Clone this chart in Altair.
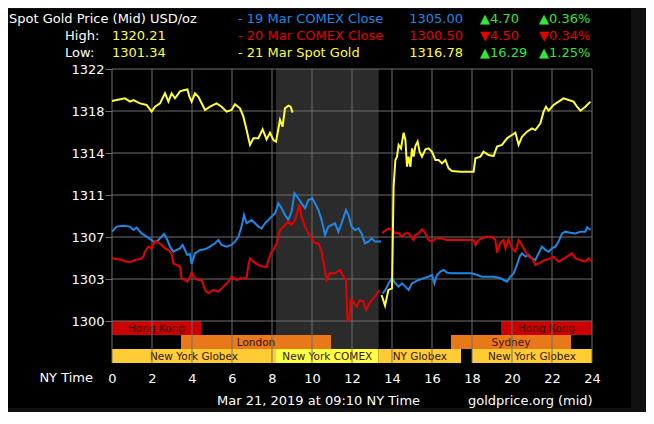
import altair as alt
import pandas as pd

# ---------------- data ----------------
spot_a_hours = [0.00, 0.23, 0.65, 0.90, 1.07, 1.40, 1.73, 1.98, 2.15, 2.40, 2.65, 2.82, 2.98, 3.15, 3.40, 3.57, 3.77, 3.87, 3.98, 4.15, 4.32, 4.65, 4.90, 5.23, 5.48, 5.73, 5.98, 6.15, 6.40, 6.57, 6.73, 6.90, 7.07, 7.32, 7.53, 7.73, 7.90, 8.07, 8.20, 8.40, 8.53, 8.65, 8.82, 8.93, 9.03]
spot_a_values = [1319.21, 1319.29, 1319.44, 1319.15, 1319.29, 1319.00, 1318.86, 1318.28, 1318.71, 1319.00, 1319.88, 1319.15, 1319.88, 1319.44, 1320.05, 1320.15, 1320.21, 1319.58, 1319.15, 1319.88, 1319.58, 1318.42, 1318.71, 1319.00, 1318.71, 1318.28, 1318.42, 1318.92, 1318.57, 1317.84, 1316.67, 1315.37, 1315.95, 1315.95, 1316.73, 1315.86, 1316.44, 1315.80, 1315.66, 1317.55, 1316.97, 1318.57, 1318.80, 1318.71, 1318.19]

spot_b_hours = [13.48, 13.65, 13.82, 14.00, 14.08, 14.17, 14.25, 14.33, 14.45, 14.58, 14.67, 14.75, 14.83, 14.92, 15.00, 15.08, 15.17, 15.28, 15.38, 15.50, 15.67, 15.83, 16.00, 16.17, 16.33, 16.50, 16.67, 16.83, 17.00, 17.42, 18.08, 18.17, 18.42, 18.58, 18.83, 19.08, 19.25, 19.50, 19.75, 20.00, 20.17, 20.33, 20.50, 20.75, 21.00, 21.17, 21.42, 21.58, 21.70, 21.83, 22.08, 22.33, 22.58, 22.83, 23.08, 23.25, 23.42, 23.67, 23.92]
spot_b_values = [1302.27, 1301.34, 1302.71, 1302.85, 1311.73, 1314.06, 1314.35, 1315.37, 1315.07, 1316.44, 1315.80, 1313.47, 1314.35, 1313.47, 1315.07, 1314.35, 1315.28, 1315.66, 1314.78, 1314.35, 1314.99, 1315.07, 1314.78, 1314.06, 1314.06, 1313.76, 1314.06, 1313.33, 1313.10, 1313.04, 1313.04, 1314.20, 1314.35, 1314.78, 1314.49, 1314.40, 1315.22, 1315.37, 1315.95, 1316.24, 1316.44, 1315.37, 1316.09, 1316.53, 1316.82, 1316.67, 1317.26, 1318.28, 1318.71, 1318.36, 1318.86, 1319.15, 1319.44, 1319.29, 1319.15, 1318.71, 1318.36, 1318.71, 1319.15]

mar19_a_hours = [0.00, 0.23, 0.57, 0.90, 1.07, 1.23, 1.48, 1.73, 1.90, 2.07, 2.23, 2.32, 2.48, 2.60, 2.73, 2.90, 3.07, 3.23, 3.40, 3.53, 3.65, 3.77, 3.90, 3.98, 4.15, 4.40, 4.65, 4.90, 5.15, 5.32, 5.48, 5.73, 5.98, 6.15, 6.32, 6.48, 6.60, 6.73, 6.98, 7.15, 7.32, 7.48, 7.65, 7.82, 7.98, 8.15, 8.32, 8.48, 8.65, 8.82, 8.98, 9.12, 9.32, 9.48, 9.65, 9.82, 10.02, 10.15, 10.32, 10.48, 10.65, 10.82, 10.98, 11.15, 11.32, 11.48, 11.70, 11.82, 11.98, 12.15, 12.32, 12.48, 12.65, 12.82, 12.98, 13.15, 13.45]
mar19_a_values = [1307.80, 1308.24, 1308.32, 1308.24, 1307.94, 1308.15, 1307.65, 1307.36, 1307.16, 1306.93, 1306.93, 1307.07, 1307.36, 1307.60, 1307.22, 1306.49, 1306.05, 1306.20, 1306.34, 1306.64, 1306.20, 1305.76, 1305.85, 1304.98, 1305.91, 1306.20, 1306.26, 1306.49, 1306.78, 1307.07, 1306.64, 1306.49, 1306.64, 1306.93, 1307.36, 1308.24, 1309.25, 1308.53, 1308.82, 1308.53, 1308.24, 1308.09, 1308.53, 1308.82, 1309.11, 1309.40, 1310.27, 1309.84, 1309.25, 1308.82, 1309.55, 1311.15, 1310.71, 1310.27, 1309.84, 1310.56, 1310.71, 1310.27, 1309.69, 1308.82, 1307.51, 1308.24, 1308.38, 1308.53, 1307.80, 1308.53, 1309.69, 1309.25, 1308.24, 1307.94, 1308.09, 1307.65, 1306.78, 1306.93, 1307.22, 1306.93, 1306.93]

mar19_b_hours = [13.53, 13.67, 13.83, 14.00, 14.17, 14.33, 14.50, 14.67, 14.83, 15.00, 15.17, 15.33, 15.58, 15.83, 16.00, 16.12, 16.25, 16.42, 16.58, 16.75, 17.00, 17.42, 18.00, 18.25, 18.50, 18.75, 19.08, 19.42, 19.75, 19.92, 20.08, 20.25, 20.38, 20.50, 20.67, 20.83, 21.00, 21.17, 21.33, 21.50, 21.67, 21.83, 22.00, 22.17, 22.33, 22.50, 22.67, 22.92, 23.17, 23.42, 23.67, 23.75, 23.92]
mar19_b_values = [1302.42, 1302.71, 1303.29, 1303.73, 1303.29, 1303.00, 1303.29, 1303.00, 1302.71, 1303.29, 1303.43, 1303.58, 1303.73, 1303.87, 1304.02, 1303.29, 1304.02, 1304.31, 1304.45, 1304.22, 1304.16, 1304.16, 1304.16, 1304.02, 1303.87, 1303.87, 1303.87, 1303.73, 1303.43, 1303.87, 1304.16, 1304.89, 1305.62, 1305.91, 1305.62, 1305.76, 1305.47, 1305.33, 1305.91, 1306.49, 1306.20, 1306.05, 1306.34, 1306.49, 1306.93, 1307.65, 1307.80, 1307.71, 1307.65, 1307.80, 1307.80, 1308.18, 1307.94]

mar20_a_hours = [0.00, 0.23, 0.48, 0.73, 0.98, 1.15, 1.40, 1.57, 1.65, 1.82, 1.98, 2.15, 2.32, 2.48, 2.65, 2.82, 2.98, 3.07, 3.23, 3.40, 3.48, 3.65, 3.77, 3.90, 3.98, 4.15, 4.32, 4.48, 4.65, 4.82, 5.07, 5.32, 5.57, 5.82, 5.98, 6.23, 6.40, 6.73, 6.82, 6.90, 7.07, 7.32, 7.57, 7.73, 7.82, 7.98, 8.07, 8.23, 8.40, 8.65, 8.82, 8.98, 9.15, 9.37, 9.48, 9.65, 9.82, 9.98, 10.15, 10.32, 10.48, 10.73, 10.90, 11.15, 11.40, 11.57, 11.70, 11.77, 11.87, 11.93, 12.07, 12.23, 12.40, 12.57, 12.70, 12.82, 12.98, 13.15, 13.37]
mar20_a_values = [1305.47, 1305.41, 1305.33, 1305.18, 1305.18, 1305.33, 1305.41, 1305.62, 1306.05, 1306.49, 1306.34, 1307.01, 1306.84, 1306.64, 1306.34, 1306.20, 1305.91, 1305.03, 1304.89, 1304.74, 1303.73, 1303.58, 1303.43, 1303.87, 1304.22, 1303.73, 1303.58, 1303.58, 1302.71, 1302.42, 1302.71, 1302.56, 1303.00, 1303.43, 1303.87, 1303.58, 1303.73, 1303.73, 1304.89, 1305.47, 1305.18, 1304.89, 1304.74, 1304.74, 1305.33, 1306.05, 1306.20, 1306.78, 1307.94, 1308.38, 1308.67, 1308.38, 1308.82, 1310.13, 1309.11, 1308.24, 1307.65, 1307.22, 1306.78, 1306.78, 1306.05, 1303.58, 1304.16, 1304.16, 1304.45, 1303.87, 1303.58, 1300.09, 1300.09, 1301.83, 1301.69, 1301.25, 1301.83, 1301.69, 1300.96, 1301.40, 1301.83, 1302.12, 1302.71]

mar20_b_hours = [13.53, 13.58, 13.83, 14.00, 14.17, 14.33, 14.50, 14.67, 14.83, 15.08, 15.17, 15.33, 15.50, 15.67, 15.83, 16.00, 16.17, 16.42, 16.75, 17.58, 18.08, 18.17, 18.33, 18.50, 18.75, 19.00, 19.17, 19.25, 19.42, 19.58, 19.67, 19.83, 20.00, 20.17, 20.33, 20.50, 20.67, 20.83, 21.00, 21.17, 21.33, 21.50, 21.67, 21.92, 22.08, 22.33, 22.50, 22.75, 23.00, 23.17, 23.42, 23.67, 23.83, 24.00]
mar20_b_values = [1307.65, 1307.80, 1308.09, 1307.94, 1307.65, 1307.65, 1307.36, 1307.65, 1307.65, 1307.07, 1307.51, 1307.65, 1308.00, 1307.65, 1307.07, 1306.93, 1307.22, 1307.22, 1307.07, 1307.07, 1307.07, 1306.64, 1307.07, 1307.22, 1307.36, 1307.36, 1307.07, 1305.97, 1306.84, 1307.07, 1306.34, 1307.13, 1306.34, 1306.05, 1307.07, 1306.64, 1306.05, 1305.62, 1305.47, 1304.89, 1305.03, 1305.18, 1305.33, 1305.47, 1305.62, 1305.18, 1305.33, 1305.62, 1305.91, 1305.47, 1305.33, 1305.18, 1305.47, 1305.18]

series_labels = ["- 19 Mar COMEX Close", "- 20 Mar COMEX Close", "- 21 Mar Spot Gold"]
series_close = [1305.00, 1300.50, 1316.78]
series_change = [4.70, -4.50, 16.29]
series_change_pct = [0.36, -0.34, 1.25]
day_high = 1320.21
day_low = 1301.34

# market sessions (hours NY time)
session_names = ["Hong Kong", "Hong Kong", "London", "Sydney", "New York Globex", "New York COMEX", "NY Globex", "New York Globex"]
session_start = [0.0, 19.45, 3.45, 16.95, 0.0, 8.2, 13.33, 18.0]
session_end = [4.45, 24.0, 10.95, 22.95, 8.2, 13.33, 17.45, 24.0]
session_row = [0, 0, 1, 1, 2, 2, 2, 2]
session_kind = ["asia", "asia", "europe", "europe", "globex", "comex", "globex", "globex"]

comex_window = [8.2, 13.33]
x_ticks = list(range(0, 25, 2))

# ---------------- styling ----------------
FONT = "DejaVu Sans"
BLUE, RED, YELLOW, GREEN = "#1e88e5", "#e60000", "#ffff33", "#33e633"
GRID = "#6f6f6f"
series_colors = [BLUE, RED, YELLOW]
kind_colors = {"asia": "#cc0000", "europe": "#e8781a", "globex": "#ffcc33", "comex": "#ffff44"}

Y_TOP = 1322.0
STEP = 22.0 / 6.0
Y_BOTTOM = 1300.0 - STEP
y_ticks = [1300.0 + i * STEP for i in range(7)]
ROW_H = STEP / 3.0

xs = alt.Scale(domain=[0, 24], nice=False, zero=False)
ys = alt.Scale(domain=[Y_BOTTOM, Y_TOP], nice=False, zero=False)

x_axis = alt.Axis(values=x_ticks, format="d", domain=False, ticks=False, grid=False,
                  labelColor="#ffffff", labelFontSize=13, labelFont=FONT, labelFlush=False,
                  labelOverlap=False, labelPadding=9, title=None, zindex=1)
y_axis = alt.Axis(values=y_ticks, labelExpr="floor(datum.value + 0.000001)",
                  domain=False, ticks=True, tickSize=7, tickColor=GRID, labelFlush=False,
                  labelOverlap=False, grid=False, labelColor="#ffffff", labelFontSize=13,
                  labelFont=FONT, labelPadding=1, title=None, zindex=1)

# ---------------- tables ----------------
rows = []
for name, seg, hs, vs in [
    ("19 Mar", "a", mar19_a_hours, mar19_a_values),
    ("19 Mar", "b", mar19_b_hours, mar19_b_values),
    ("20 Mar", "a", mar20_a_hours, mar20_a_values),
    ("20 Mar", "b", mar20_b_hours, mar20_b_values),
    ("21 Mar", "a", spot_a_hours, spot_a_values),
    ("21 Mar", "b", spot_b_hours, spot_b_values),
]:
    for h, v in zip(hs, vs):
        rows.append({"hour": h, "price": v, "series": name, "key": name + seg})
lines_df = pd.DataFrame(rows)

sess_df = pd.DataFrame({
    "name": session_names,
    "start": session_start,
    "end": session_end,
    "mid": [(a + b) / 2 for a, b in zip(session_start, session_end)],
    "top": [1300.0 - r * ROW_H for r in session_row],
    "bot": [1300.0 - (r + 1) * ROW_H for r in session_row],
    "cen": [1300.0 - (r + 0.5) * ROW_H for r in session_row],
    "color": [kind_colors[k] for k in session_kind],
})

# ---------------- layers ----------------
frame = alt.Chart(pd.DataFrame({"a": [0]})).mark_rect(color="#000000").encode(
    x=alt.value(-104), x2=alt.value(519), y=alt.value(-60), y2=alt.value(339))

shade = alt.Chart(pd.DataFrame({"s": [comex_window[0]], "e": [comex_window[1]]})).mark_rect(
    color="#2b2b2b").encode(
    x=alt.X("s:Q", scale=xs, axis=x_axis), x2="e:Q",
    y=alt.datum(Y_TOP, scale=ys, axis=y_axis), y2=alt.datum(Y_BOTTOM))

bands = alt.Chart(sess_df).mark_rect().encode(
    x=alt.X("start:Q", scale=xs, axis=x_axis), x2="end:Q",
    y=alt.Y("top:Q", scale=ys, axis=y_axis), y2="bot:Q",
    color=alt.Color("color:N", scale=None))

band_text = alt.Chart(sess_df).mark_text(
    font=FONT, fontSize=10.5, color="#3a1500", baseline="middle", align="center", dy=1).encode(
    x=alt.X("mid:Q", scale=xs, axis=x_axis), y=alt.Y("cen:Q", scale=ys, axis=y_axis), text="name:N")

vgrid = alt.Chart(pd.DataFrame({"h": x_ticks})).mark_rule(color=GRID, strokeWidth=1).encode(
    x=alt.X("h:Q", scale=xs, axis=x_axis),
    y=alt.datum(Y_TOP, scale=ys, axis=y_axis), y2=alt.datum(Y_BOTTOM))

hgrid = alt.Chart(pd.DataFrame({"v": y_ticks})).mark_rule(color=GRID, strokeWidth=1).encode(
    y=alt.Y("v:Q", scale=ys, axis=y_axis),
    x=alt.datum(0, scale=xs, axis=x_axis), x2=alt.datum(24))

lines = alt.Chart(lines_df).mark_line(strokeWidth=2).encode(
    x=alt.X("hour:Q", scale=xs, axis=x_axis), y=alt.Y("price:Q", scale=ys, axis=y_axis),
    color=alt.Color("series:N", scale=alt.Scale(domain=["19 Mar", "20 Mar", "21 Mar"],
                                                range=series_colors), legend=None),
    detail="key:N")


def txt(text, x, y, color="#ffffff", size=13, align="left"):
    return alt.Chart(pd.DataFrame({"t": [text]})).mark_text(
        font=FONT, fontSize=size, color=color, align=align, baseline="alphabetic").encode(
        x=alt.value(x), y=alt.value(y), text="t:N")


texts = [
    txt("Spot Gold Price (Mid) USD/oz", -103, -46),
    txt("High:", -47, -29),
    txt(f"{day_high:.2f}", 0, -29, YELLOW),
    txt("Low:", -47, -12),
    txt(f"{day_low:.2f}", 0, -12, YELLOW),
    txt("NY Time", -19, 313, align="right"),
    txt("Mar 21, 2019 at 09:10 NY Time", 105, 336),
    txt("goldprice.org (mid)", 356, 336),
]
row_y = [-46, -29, -12]
for i in range(3):
    up = series_change[i] >= 0
    ccol = GREEN if up else RED
    tri = "\u25B2" if up else "\u25BC"
    texts.append(txt(series_labels[i], 126, row_y[i], series_colors[i]))
    texts.append(txt(f"{series_close[i]:.2f}", 351, row_y[i], series_colors[i], align="right"))
    texts.append(txt(f"{tri}{abs(series_change[i]):.2f}", 368, row_y[i], ccol))
    texts.append(txt(f"{tri}{abs(series_change_pct[i]):.2f}%", 427, row_y[i], ccol))

chart = alt.layer(frame, shade, bands, band_text, vgrid, hgrid, lines, *texts).properties(
    width=480, height=294,
    background="#111111",
    padding={"left": 104, "top": 61, "right": 54, "bottom": 49},
    autosize=alt.AutoSizeParams(type="none"),
).configure_view(stroke=None).configure(font=FONT)

chart.save("out.html", embed_options={"renderer": "svg", "actions": False})
